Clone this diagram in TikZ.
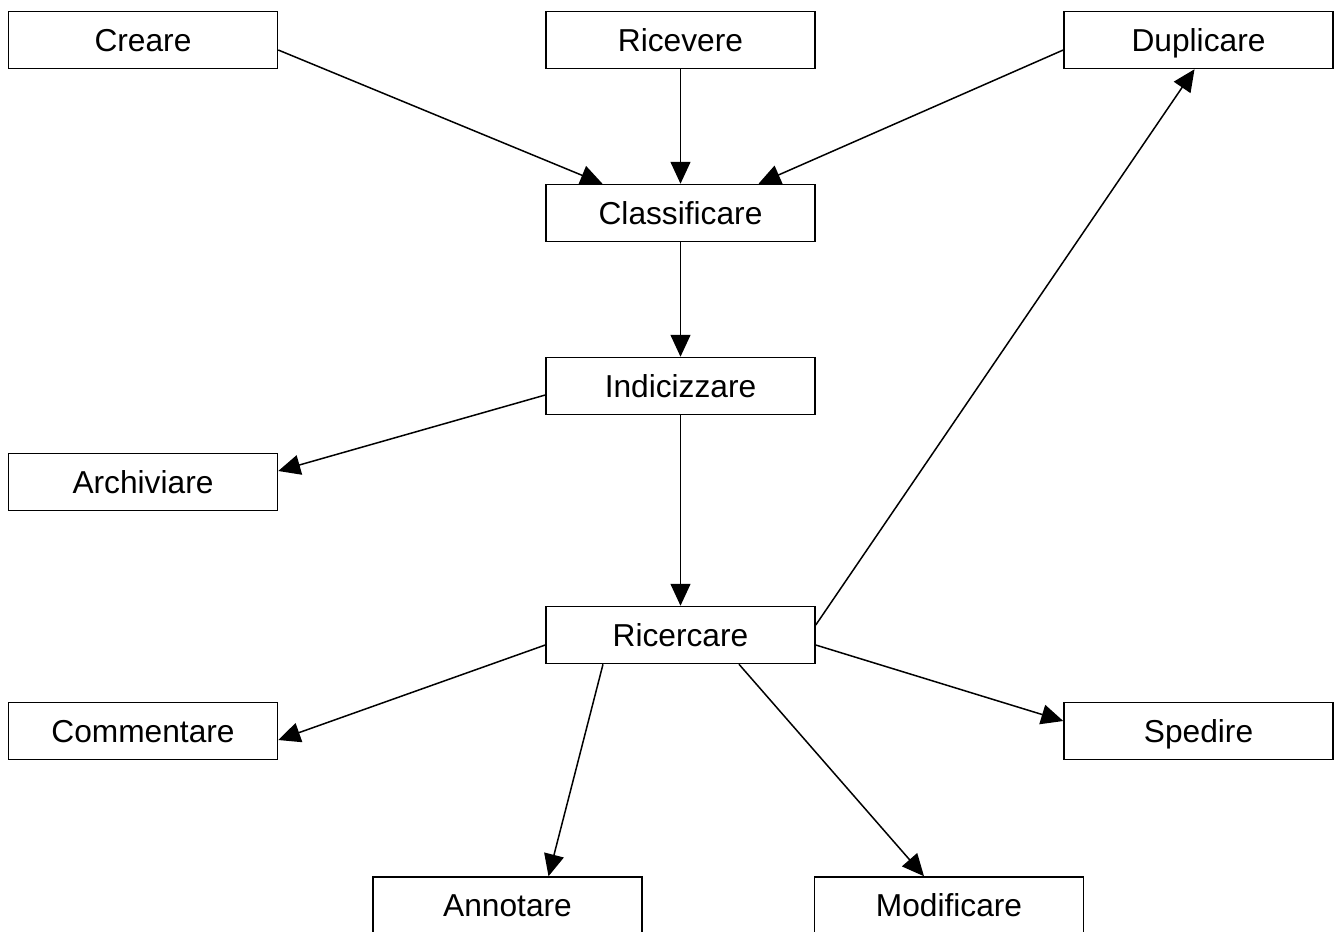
\documentclass[tikz,border=0pt]{standalone}
\usepackage{fontspec}
\setmainfont{Liberation Sans}
\usetikzlibrary{arrows.meta}
\begin{document}
\begin{tikzpicture}[x=1pt,y=-1pt,
  box/.style={draw=black, line width=1.5pt, fill=white, minimum width=269pt,
    minimum height=57pt, inner sep=0pt, text height=22.7pt, text depth=0pt,
    font=\fontsize{31.7}{38}\selectfont},
  flow/.style={draw=black, line width=1.5pt,
    -{Triangle[length=22pt,width=20pt]}}]
\useasboundingbox (0,0) rectangle (1337,931);
\clip (0,0) rectangle (1337,931);

% process steps
\node[box] (creare)   at (143,40)    {Creare};
\node[box] (ricevere) at (680.5,40)  {Ricevere};
\node[box] (dupl)     at (1198.5,40) {Duplicare};
\node[box] (classif)  at (680.5,213) {Classificare};
\node[box] (indic)    at (680.5,386) {Indicizzare};
\node[box] (archiv)   at (143,482)   {Archiviare};
\node[box] (ricerc)   at (680.5,635) {Ricercare};
\node[box] (comment)  at (143,731)   {Commentare};
\node[box] (spedire)  at (1198.5,731) {Spedire};
\node[box] (annot)    at (507.5,905.5) {Annotare};
\node[box] (modif)    at (949,905.5) {Modificare};

% connectors
\draw[flow] ([shift={(0,10)}]creare.east) -- ([shift={(-78,0)}]classif.north);
\draw[flow] (ricevere.south) -- (classif.north);
\draw[flow] ([shift={(0,10)}]dupl.west) -- ([shift={(78,0)}]classif.north);
\draw[flow] (classif.south) -- (indic.north);
\draw[flow] ([shift={(0,9)}]indic.west) -- ([shift={(0,-11)}]archiv.east);
\draw[flow] (indic.south) -- (ricerc.north);
\draw[flow] ([shift={(0,-10)}]ricerc.east) -- ([shift={(-4,0)}]dupl.south);
\draw[flow] ([shift={(0,10)}]ricerc.west) -- ([shift={(0,9)}]comment.east);
\draw[flow] ([shift={(-77.5,0)}]ricerc.south) -- ([shift={(41,0)}]annot.north);
\draw[flow] ([shift={(58.5,0)}]ricerc.south) -- ([shift={(-25,0)}]modif.north);
\draw[flow] ([shift={(0,10)}]ricerc.east) -- ([shift={(0,-10)}]spedire.west);
\end{tikzpicture}
\end{document}
